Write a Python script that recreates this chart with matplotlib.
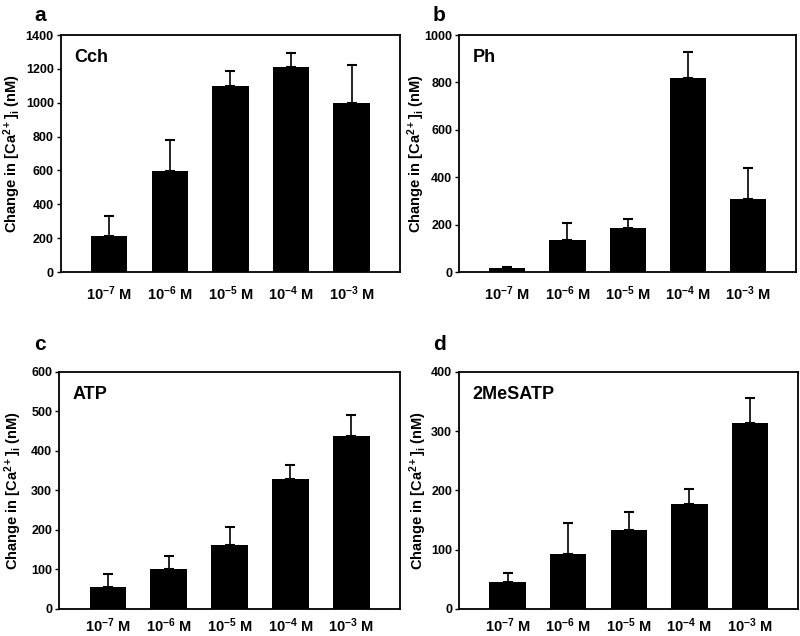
import matplotlib
matplotlib.use("Agg")
import matplotlib.pyplot as plt
import numpy as np

plt.rcParams['font.family'] = ['Liberation Sans', 'DejaVu Sans']
plt.rcParams['font.weight'] = 'bold'
plt.rcParams['mathtext.fontset'] = 'custom'
plt.rcParams['mathtext.rm'] = 'Liberation Sans:bold'
plt.rcParams['mathtext.it'] = 'Liberation Sans:bold:italic'
plt.rcParams['mathtext.bf'] = 'Liberation Sans:bold'

# concentrations (x tick labels)
conc = ['10$^{-7}$ M', '10$^{-6}$ M', '10$^{-5}$ M', '10$^{-4}$ M', '10$^{-3}$ M']

# mean change in [Ca2+]i (nM) and upper error
cch = [212, 598, 1100, 1213, 996]
cch_err = [120, 180, 89, 79, 227]

ph = [15, 137, 187, 820, 310]
ph_err = [5, 70, 38, 110, 127]

atp = [56, 100, 163, 329, 438]
atp_err = [33, 34, 44, 35, 54]

mesatp = [45, 92, 133, 177, 314]
mesatp_err = [15, 53, 30, 26, 42]

panels = [
    ('a', 'Cch', cch, cch_err, 1400, 200, [0.076, 0.5723, 0.424, 0.3726], -0.11, 9),
    ('b', 'Ph', ph, ph_err, 1000, 200, [0.574, 0.5723, 0.421, 0.3726], -0.095, 9),
    ('c', 'ATP', atp, atp_err, 600, 100, [0.074, 0.0425, 0.426, 0.3726], -0.103, 5.5),
    ('d', '2MeSATP', mesatp, mesatp_err, 400, 100, [0.574, 0.0425, 0.424, 0.3726], -0.088, 5.5),
]
letter_pos = {'a': (0.05, 0.976), 'b': (0.549, 0.976), 'c': (0.05, 0.458), 'd': (0.549, 0.458)}

fig = plt.figure(figsize=(8, 6.36), dpi=100)

for letter, name, vals, errs, ymax, step, rect, ylab_x, xpad in panels:
    ax = fig.add_axes(rect)
    x = np.arange(len(vals))
    ax.bar(x, vals, width=0.6, color='black',
           yerr=[np.zeros(len(errs)), errs], capsize=3.5,
           error_kw=dict(elinewidth=1.2, capthick=1.5, ecolor='black'))
    ax.set_xlim(-0.8, 4.8)
    ax.set_ylim(0, ymax)
    ax.set_yticks(np.arange(0, ymax + 1, step))
    ax.set_xticks(x)
    ax.set_xticklabels(conc, fontsize=10.5, fontweight='bold')
    ax.tick_params(axis='x', length=0, pad=xpad)
    ax.tick_params(axis='y', length=3, width=1, pad=2, labelsize=9)
    for lbl in ax.get_yticklabels():
        lbl.set_fontweight('bold')
    for sp in ax.spines.values():
        sp.set_linewidth(1.3)
    ax.set_ylabel('Change in [Ca$^{2+}$]$_\\mathrm{i}$ (nM)', fontsize=10.5, fontweight='bold')
    ax.yaxis.set_label_coords(ylab_x, 0.5)
    ax.text(0.04, 0.905, name, transform=ax.transAxes, fontsize=13,
            fontweight='bold', va='center', ha='left')
    fig.text(letter_pos[letter][0], letter_pos[letter][1], letter, fontsize=15,
             fontweight='bold', ha='center', va='center')

fig.savefig('out.png', dpi=100)
